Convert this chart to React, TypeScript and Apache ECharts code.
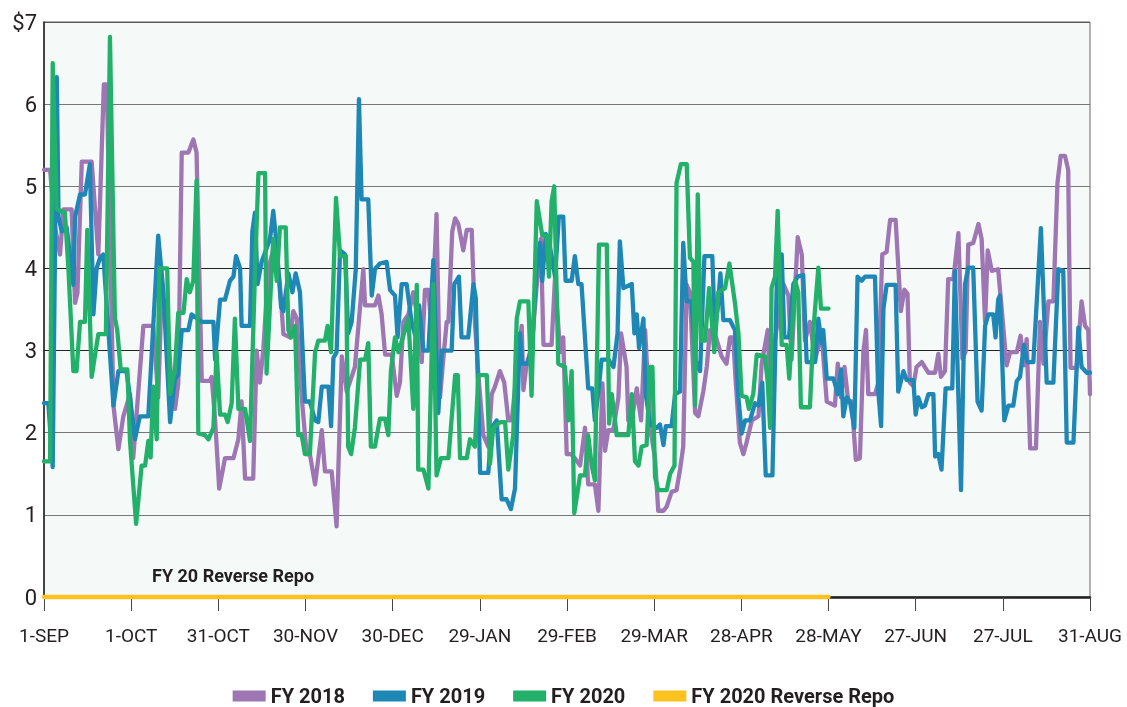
import React, { useEffect, useRef } from "react";
import * as echarts from "echarts";

const tickLabels = ["1-SEP", "1-OCT", "31-OCT", "30-NOV", "30-DEC", "29-JAN", "29-FEB", "29-MAR", "28-APR", "28-MAY", "27-JUN", "27-JUL", "31-AUG"];
const seriesNames = ["FY 2018", "FY 2019", "FY 2020", "FY 2020 Reverse Repo"];

const fy2018Days = [0,2.1,3.8,5.5,6.7,9.5,10.7,11.5,13.0,16.4,18.7,20.6,21.6,23.9,25.6,27.3,29.6,30.7,34.2,37.6,39.3,40.5,42.2,43.9,45.1,46.2,47.4,49.7,51.4,52.5,54.3,57.1,57.7,58.9,60.3,62.3,65.2,66.9,68.0,69.2,72.0,73.2,74.3,75.5,77.2,79.5,81.2,82.4,84.7,85.8,87.0,88.7,90.4,91.5,93.3,95.6,96.7,99.0,100.7,102.5,104.2,107.0,109.9,110.5,113.9,115.1,116.2,117.4,119.7,121.4,122.5,123.7,125.4,127.1,128.8,130.0,131.1,132.3,133.4,135.1,136.3,137.4,138.6,139.2,140.5,141.5,142.6,144.3,145.5,147.2,148.3,149.5,151.2,152.9,154.1,155.2,156.9,158.4,159.8,161.0,162.7,164.4,165.0,166.1,167.8,169.6,171.0,171.9,174.7,175.9,177.6,178.7,179.9,181.4,182.7,184.5,186.2,187.3,189.6,190.8,192.2,193.1,194.2,195.9,197.7,198.6,200.5,201.1,202.3,204.0,205.5,206.9,208.6,210.3,211.4,213.2,214.3,216.0,217.7,218.9,220.0,221.2,222.3,224.1,225.2,226.9,228.1,229.2,230.9,233.2,234.9,236.1,237.2,238.0,239.5,240.7,241.8,243.6,245.9,247.0,249.1,249.9,251.0,254.5,256.2,257.3,259.4,260.8,261.9,263.6,265.4,267.6,269.4,272.2,273.2,274.3,275.5,276.8,278.0,279.4,280.8,282.0,282.9,283.7,286.0,287.1,288.5,290.0,291.2,293.1,294.9,296.1,297.2,298.0,299.2,300.3,302.1,304.4,306.7,307.8,308.7,310.1,311.2,313.0,314.7,316.1,317.2,318.1,319.8,321.6,322.7,323.9,324.8,326.2,328.4,330.0,331.3,332.5,334.8,336.1,337.3,338.2,339.4,341.4,342.8,344.0,345.7,347.4,348.8,349.9,351.4,352.5,353.3,355.4,357.1,358.3,359.4,360.0];
const fy2018Vals = [5.2,5.2,4.5,4.17,4.72,4.72,3.58,3.7,5.3,5.3,4.17,6.24,6.24,2.33,1.8,2.2,2.47,1.69,3.3,3.3,2.43,3.71,3.44,2.6,2.29,2.6,5.41,5.41,5.57,5.41,2.63,2.63,2.68,2.15,1.32,1.69,1.69,1.92,2.38,1.44,1.44,3.0,2.61,3.02,4.0,4.3,3.8,3.2,3.16,3.48,3.39,2.43,1.74,1.74,1.37,2.03,1.53,1.53,0.86,2.93,2.5,2.8,3.99,3.55,3.55,3.67,3.44,2.95,2.95,2.45,2.61,3.35,3.44,3.71,3.35,2.86,3.74,3.74,3.25,4.66,2.43,2.89,3.35,3.35,4.45,4.61,4.54,4.22,4.47,4.47,3.35,2.7,1.97,1.83,2.47,2.56,2.75,2.61,2.15,2.15,2.75,3.3,2.52,2.84,3.02,3.81,4.36,3.07,3.07,3.9,2.98,3.16,1.74,1.74,1.69,1.6,2.06,1.37,1.37,1.05,2.6,1.78,2.03,2.03,2.43,3.21,2.8,2.15,2.15,2.54,2.15,3.25,2.06,1.69,1.05,1.05,1.1,1.28,1.3,1.55,1.83,3.8,3.71,2.24,2.2,2.5,2.8,3.25,3.21,2.93,2.84,3.16,3.16,2.66,1.88,1.74,1.88,2.15,2.2,2.84,3.25,2.43,3.0,3.81,3.67,2.89,4.38,4.17,3.12,3.35,2.89,3.21,2.38,2.33,2.84,2.43,2.8,2.38,2.38,1.67,1.69,2.98,3.25,2.47,2.47,2.6,4.17,4.2,4.59,4.59,3.48,3.74,3.69,2.61,2.57,2.8,2.86,2.73,2.73,2.96,2.68,2.75,3.87,3.87,4.43,2.9,2.99,4.29,4.31,4.54,4.36,3.35,4.22,3.97,3.99,3.35,2.82,2.98,2.98,3.18,2.82,3.14,1.81,1.81,3.35,2.84,3.6,3.6,5.04,5.37,5.37,5.2,2.79,2.79,3.6,3.3,3.25,2.47];

const fy2019Days = [0,1.5,3.0,4.4,5.0,6.1,7.8,10.1,10.7,12.4,14.1,15.8,17.0,18.1,19.3,20.4,23.9,25.6,28.4,29.6,31.3,33.0,35.9,39.3,41.1,43.4,45.1,46.2,47.4,49.7,50.8,54.3,58.3,58.9,60.6,62.3,64.0,65.2,66.1,67.5,68.0,70.9,71.7,72.6,73.5,74.9,77.8,78.9,80.1,81.6,82.4,84.1,85.5,86.6,88.1,89.8,91.5,93.3,94.4,95.6,97.9,98.8,99.6,100.7,101.9,103.6,104.7,105.9,107.3,108.4,109.3,111.6,112.8,113.9,115.6,117.9,119.1,120.8,121.7,123.1,124.8,126.5,127.7,129.1,130.6,132.3,134.0,135.7,136.9,140.3,141.2,142.8,143.7,146.0,147.8,148.6,150.1,152.9,154.1,155.8,157.5,159.2,160.7,162.1,163.8,164.6,166.5,168.1,169.5,170.7,171.5,172.7,174.1,175.9,177.2,178.7,179.5,181.6,182.7,183.9,185.0,187.3,188.7,189.6,190.8,191.9,194.2,196.0,197.4,198.2,199.4,202.3,203.2,204.0,204.8,206.3,207.1,208.6,210.9,212.0,213.2,214.0,216.0,217.2,218.9,220.0,221.2,222.9,224.1,225.8,227.3,230.0,230.9,231.9,232.8,233.8,236.1,237.8,239.0,240.1,241.3,243.0,244.7,245.9,247.2,248.4,250.7,252.2,253.9,254.8,256.4,257.9,259.4,261.3,262.5,265.4,266.5,267.6,268.2,269.4,271.7,273.2,274.3,275.1,276.3,277.4,278.9,280.0,281.4,282.6,285.1,286.0,287.1,288.1,288.9,290.0,293.1,294.0,295.8,296.9,299.2,300.0,300.9,302.1,303.2,304.4,306.1,306.7,307.8,308.9,310.3,312.6,313.5,315.6,317.0,318.1,319.8,321.3,322.7,323.9,325.0,326.7,327.5,328.4,329.0,330.5,331.9,333.6,334.8,335.9,337.3,338.4,340.5,343.1,345.1,347.4,349.1,350.8,352.0,354.3,356.0,357.1,358.9,360.0];
const fy2019Vals = [2.36,2.36,1.58,6.33,4.63,4.45,4.5,3.8,4.63,4.9,4.9,5.27,3.44,4.0,4.13,4.17,2.33,2.75,2.75,2.43,1.92,2.2,2.2,4.4,3.71,2.13,2.66,2.7,3.25,3.25,3.44,3.35,3.35,2.89,3.62,3.62,3.85,3.9,4.15,4.0,3.3,3.3,4.45,4.68,3.81,4.08,4.36,4.7,4.27,3.53,3.48,3.94,3.71,3.94,3.71,2.38,2.38,2.15,2.13,2.56,2.56,2.08,2.91,2.98,4.22,4.17,3.21,3.35,3.99,6.06,4.84,4.84,3.67,3.99,4.06,4.08,3.74,3.67,3.16,3.81,3.81,3.35,3.19,3.55,3.0,3.0,4.1,2.24,3.0,3.0,3.81,3.9,3.16,3.16,3.81,3.64,1.51,1.51,2.06,2.15,1.19,1.19,1.07,1.32,3.21,2.84,2.84,3.12,3.99,4.31,3.85,4.42,4.27,3.9,4.63,4.63,3.85,3.85,4.15,3.81,3.81,2.54,2.54,2.15,2.5,2.89,2.89,2.8,3.21,4.33,3.76,3.81,3.21,3.44,3.03,3.39,2.47,2.1,2.06,2.1,1.85,2.08,2.08,2.47,2.5,4.31,3.6,3.6,2.89,2.75,4.15,4.15,3.25,3.53,3.94,3.37,3.37,3.25,2.43,1.99,2.15,2.15,2.36,2.33,2.61,1.48,1.48,3.81,4.17,3.16,3.16,3.81,3.9,3.92,2.86,2.86,3.39,3.09,3.25,2.66,2.66,2.47,2.77,2.2,2.43,2.38,2.06,3.9,3.85,3.9,3.9,3.9,2.52,2.08,3.51,3.8,3.8,2.5,2.75,2.64,2.64,2.22,2.43,2.31,2.33,2.47,2.47,1.71,1.74,1.55,2.54,2.54,3.97,1.3,3.81,4.01,4.01,2.38,2.27,3.3,3.44,3.44,3.16,3.62,3.67,2.15,2.33,2.33,2.63,2.68,3.07,2.86,2.86,4.49,2.61,2.61,3.99,3.97,1.88,1.88,3.28,2.8,2.73,2.73];

const fy2020Days = [0,2.1,3.0,4.4,7.2,8.4,10.1,11.2,12.4,14.1,14.9,16.4,18.7,21.3,22.7,24.4,25.2,26.4,28.7,29.6,31.7,33.6,34.8,35.9,36.7,37.6,38.8,39.7,42.4,43.4,45.1,46.2,48.0,49.1,50.2,51.4,52.5,53.1,55.4,56.6,58.3,59.4,60.6,62.3,63.2,64.6,65.7,66.9,69.2,70.9,72.6,73.8,76.1,76.6,78.9,80.1,81.2,83.2,84.1,85.0,86.4,87.5,88.7,89.8,91.5,93.3,94.4,96.7,97.6,98.8,100.5,101.9,103.9,104.7,105.7,107.0,108.8,110.5,111.6,112.5,113.9,115.6,117.4,118.5,119.4,120.8,122.0,125.4,127.1,128.3,128.8,130.6,132.3,134.0,135.1,136.6,139.2,141.5,142.4,143.2,145.5,146.6,148.3,149.5,152.4,153.5,154.6,157.0,158.7,159.8,161.5,162.7,163.8,166.7,167.8,169.6,171.5,173.0,173.8,174.7,175.6,177.0,179.3,180.5,181.6,182.5,184.5,186.2,187.3,188.5,189.6,191.0,193.7,194.5,195.4,197.1,201.1,202.3,203.4,204.6,205.7,207.4,208.6,209.4,210.3,211.4,214.3,215.5,217.0,217.7,219.2,221.2,222.3,223.5,224.1,225.0,226.1,227.5,228.9,230.7,232.1,234.4,235.9,237.8,239.0,240.1,241.8,242.6,244.1,245.3,248.1,249.1,249.9,250.4,251.6,252.5,253.9,255.6,256.5,258.5,259.6,260.5,263.6,264.8,266.5,267.4,270.0];
const fy2020Vals = [1.65,1.65,6.5,4.72,4.68,4.0,2.75,2.75,3.35,3.35,4.47,2.68,3.2,3.2,6.82,3.4,3.25,2.77,2.77,1.9,0.89,1.6,1.6,1.9,1.7,2.56,1.92,4.0,4.0,2.47,2.79,3.46,3.46,3.87,3.71,3.85,5.07,1.99,1.97,1.92,2.06,2.98,2.22,2.22,2.13,2.36,3.39,2.29,2.29,1.9,3.94,5.16,5.16,2.72,4.36,3.85,4.5,4.5,3.25,3.16,3.3,1.97,1.97,1.74,1.74,2.98,3.12,3.12,3.3,2.98,4.86,4.15,4.15,1.83,1.74,2.06,2.89,2.89,3.09,1.83,1.83,2.17,2.17,1.97,2.75,3.16,2.98,3.39,2.29,3.8,1.55,1.55,1.32,3.81,1.48,1.69,1.69,2.7,2.7,1.69,1.69,1.92,1.83,2.7,2.7,1.62,2.06,2.13,2.13,1.55,1.97,3.39,3.6,3.6,2.45,4.82,4.4,4.4,3.9,4.82,5.0,2.84,2.8,2.15,2.75,1.02,1.48,1.48,1.97,1.6,1.42,4.29,4.29,2.11,2.47,1.97,1.97,2.47,1.65,1.6,1.83,1.85,2.8,2.8,1.46,1.3,1.3,1.5,1.6,5.04,5.27,5.27,4.13,4.08,2.33,4.9,3.12,3.12,3.76,2.98,3.71,3.76,4.06,3.58,3.21,2.45,2.43,2.29,2.47,2.95,2.93,2.61,2.06,3.76,3.9,4.7,3.07,3.07,2.66,3.85,3.71,2.31,2.31,3.25,4.01,3.51,3.51];

const repoDays = [0, 270];
const repoVals = [0, 0];

const colors = ["#9e76b4", "#1f87b5", "#22b06a", "#fec220"];
const FONT = 'Roboto, "Liberation Sans", sans-serif';

const pairs = (d: number[], v: number[]) => d.map((x, i) => [x, v[i]]);

export default function App() {
  const ref = useRef<HTMLDivElement>(null);
  useEffect(() => {
    if (!ref.current) return;
    const chart = echarts.init(ref.current, null, { renderer: "svg" });
    const lineSeries = (name: string, data: number[][], color: string) => ({
      name,
      type: "line",
      data,
      showSymbol: false,
      symbol: "none",
      color,
      lineStyle: { color, width: 4.3, join: "round", cap: "round" },
    });
    chart.setOption({
      animation: false,
      textStyle: { fontFamily: FONT, color: "#231f20" },
      grid: {
        left: 44,
        right: 37,
        top: 22,
        bottom: 110,
        show: true,
        backgroundColor: "#f5faf8",
        borderColor: "#666",
        borderWidth: 1,
      },
      legend: {
        top: 681,
        left: "center",
        icon: "rect",
        itemWidth: 33,
        itemHeight: 11,
        itemGap: 28,
        data: seriesNames,
        textStyle: { fontFamily: FONT, fontWeight: "bold", fontSize: 20, color: "#231f20" },
      },
      xAxis: {
        type: "value",
        min: 0,
        max: 360,
        interval: 30,
        axisLine: { show: true, lineStyle: { color: "#231f20", width: 2.5 } },
        axisTick: { show: true, length: 14, lineStyle: { color: "#444", width: 1 } },
        axisLabel: {
          margin: 29,
          fontSize: 19,
          color: "#231f20",
          fontFamily: FONT,
          formatter: (v: number) => tickLabels[Math.round(v / 30)] ?? "",
        },
        splitLine: { show: false },
      },
      yAxis: {
        type: "value",
        min: 0,
        max: 7,
        interval: 1,
        axisLine: { show: true, lineStyle: { color: "#231f20", width: 1.5 } },
        axisTick: { show: false },
        axisLabel: {
          margin: 7,
          fontSize: 22,
          color: "#231f20",
          fontFamily: FONT,
          formatter: (v: number) => (v === 7 ? "$7" : String(v)),
        },
        splitLine: {
          show: true,
          lineStyle: { color: ["#555", "#777", "#777", "#222", "#222", "#777", "#777", "#555"], width: 1.2 },
        },
      },
      graphic: [
        {
          type: "text",
          left: 152,
          top: 566,
          style: {
            text: "FY 20 Reverse Repo",
            fontFamily: FONT,
            fontWeight: "bold",
            fontSize: 18,
            fill: "#231f20",
          },
        },
      ],
      series: [
        lineSeries(seriesNames[0], pairs(fy2018Days, fy2018Vals), colors[0]),
        lineSeries(seriesNames[1], pairs(fy2019Days, fy2019Vals), colors[1]),
        lineSeries(seriesNames[2], pairs(fy2020Days, fy2020Vals), colors[2]),
        { ...lineSeries(seriesNames[3], pairs(repoDays, repoVals), colors[3]), clip: false, z: 5 },
      ],
    });
    return () => chart.dispose();
  }, []);
  return <div ref={ref} style={{ position: "fixed", left: 0, top: 0, width: 1127, height: 707 }} />;
}
